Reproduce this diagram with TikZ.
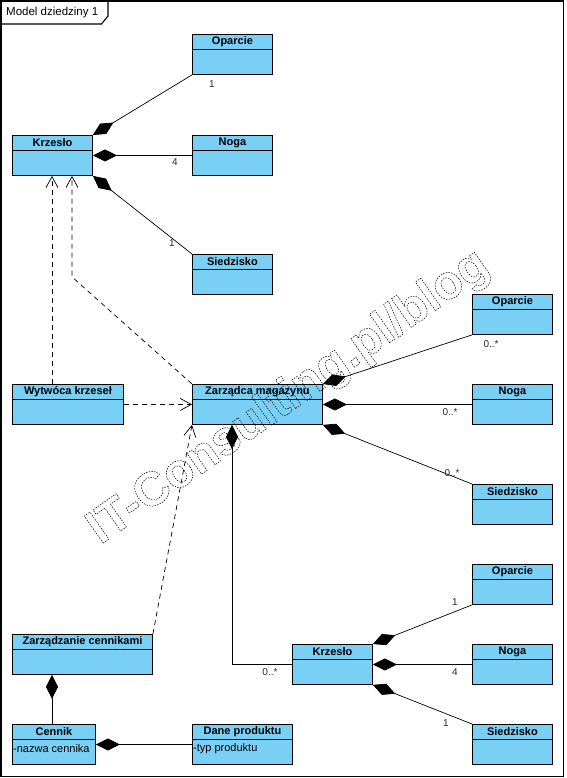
\documentclass[tikz,border=0pt]{standalone}
\usepackage{fontspec}
\setmainfont{Liberation Sans}
\usetikzlibrary{arrows.meta,calc}
\definecolor{clsfill}{RGB}{122,207,245}
\definecolor{multc}{RGB}{40,40,40}
\tikzset{
  cls/.style={draw=black, line width=0.9pt, fill=clsfill, minimum height=40pt, inner sep=0pt, anchor=north west},
  clstitle/.style={font=\bfseries\fontsize{11}{13}\selectfont, inner sep=0pt},
  clsattr/.style={font=\fontsize{11}{13}\selectfont, inner sep=0pt, anchor=west},
  comp/.style={line width=0.7pt, {Diamond[length=24pt,width=12pt]}-},
  dep/.style={line width=0.7pt, dash pattern=on 5pt off 4pt, -{Straight Barb[length=11pt,width=12pt,line width=0.7pt]}},
  mult/.style={font=\fontsize{10}{12}\selectfont, text=multc, inner sep=0pt},
  frame/.style={line width=1.1pt, draw=black},
}
\newcommand{\umlclass}[5]{%
  \node[cls, minimum width=#4pt] (#1) at (#2,#3) {};
  \draw[line width=0.9pt] ($(#1.north west)+(0,15)$) -- ($(#1.north east)+(0,15)$);
  \node[clstitle] (#1-t) at ($(#1.north)+(0,8)$) {#5};
}
\begin{document}
\begin{tikzpicture}[x=1pt,y=-1pt]
\useasboundingbox (0,0) rectangle (566,778);
% frame
\draw[frame] (1,1) rectangle (563.5,776.5);
\draw[frame] (1,24) -- (101.5,24) -- (108,16) -- (108,1);
\node[font=\fontsize{11.5}{13}\selectfont, anchor=west, inner sep=0pt] (frametitle) at (6,13) {Model dziedziny 1};

% top group
\umlclass{op1}{192}{34}{80}{Oparcie}
\umlclass{k1}{12}{135}{80}{Krzesło}
\umlclass{ng1}{192}{135}{80}{Noga}
\umlclass{sd1}{192}{254}{80}{Siedzisko}
% middle group
\umlclass{op2}{472}{294}{80}{Oparcie}
\umlclass{wy}{12}{384}{111}{Wytwóca krzeseł}
\umlclass{zm}{192}{384}{130}{Zarządca magazynu}
\umlclass{ng2}{472}{384}{80}{Noga}
\umlclass{sd2}{472}{484}{80}{Siedzisko}
% bottom group
\umlclass{op3}{472}{564}{80}{Oparcie}
\umlclass{zc}{12}{634}{140}{Zarządzanie cennikami}
\umlclass{k2}{292}{644}{80}{Krzesło}
\umlclass{ng3}{472}{644}{80}{Noga}
\umlclass{cn}{12}{724}{83}{Cennik}
\umlclass{dp}{192}{724}{100}{Dane produktu}
\umlclass{sd3}{472}{724}{80}{Siedzisko}
\node[clsattr] (cn-a) at ($(cn.north west)+(1,25)$) {-nazwa cennika};
\node[clsattr] (dp-a) at ($(dp.north west)+(1,25)$) {-typ produktu};

% compositions top
\draw[comp] (k1.north east) -- (op1.south west);
\draw[comp] (k1.east) -- (ng1.west);
\draw[comp] (k1.south east) -- (sd1.north west);
\node[mult] (m1) at (212,84) {1};
\node[mult] (m2) at (175,162) {4};
\node[mult] (m3) at (172,243) {1};

% dependencies
\draw[dep] ($(wy.north west)+(40,0)$) -- ($(k1.south west)+(40,0)$);
\draw[dep] (zm.north west) -- ($(k1.south west)+(60,101)$) -- ($(k1.south west)+(60,0)$);
\draw[dep] (wy.east) -- (zm.west);
\draw[dep] (zc.north east) -- (zm.south west);

% compositions middle
\draw[comp] (zm.north east) -- (op2.south west);
\draw[comp] (zm.east) -- (ng2.west);
\draw[comp] (zm.south east) -- (sd2.north west);
\draw[comp] ($(zm.south west)+(40,0)$) |- (k2.west);
\node[mult] (m4) at (491,344) {0..*};
\node[mult] (m5) at (450,412) {0..*};
\node[mult] (m6) at (452,473) {0..*};
\node[mult] (m7) at (270,672) {0..*};

% compositions bottom
\draw[comp] (k2.north east) -- (op3.south west);
\draw[comp] (k2.east) -- (ng3.west);
\draw[comp] (k2.south east) -- (sd3.north west);
\node[mult] (m8) at (455,602) {1};
\node[mult] (m9) at (455,672) {4};
\node[mult] (m10) at (446,723) {1};

\draw[comp] ($(zc.south west)+(40,0)$) -- ($(cn.north west)+(40,0)$);
\draw[comp] (cn.east) -- (dp.west);

% watermark
\node[rotate=35, font=\bfseries\fontsize{48}{50}\selectfont, text=black, inner sep=0pt] (wm) at (289,398)
  {\special{pdf:literal direct 1 Tr 0.5 w [1.5 1.2] 0 d}IT-Consulting.pl/blog\special{pdf:literal direct 0 Tr [] 0 d}};
\end{tikzpicture}
\end{document}
